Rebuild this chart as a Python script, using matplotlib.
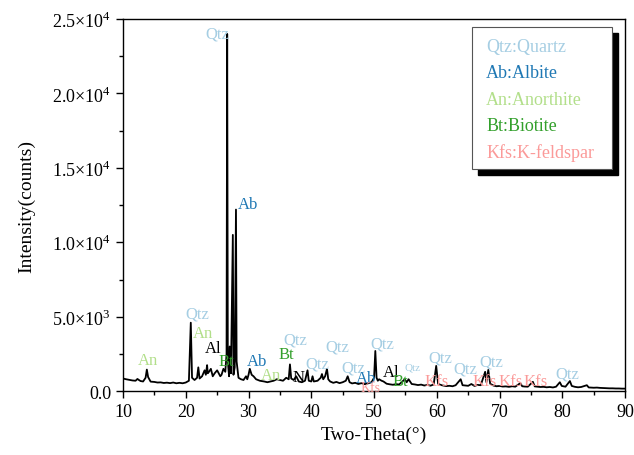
import matplotlib
matplotlib.use("Agg")
import matplotlib.pyplot as plt
from matplotlib.patches import Rectangle
from matplotlib.ticker import FuncFormatter, MultipleLocator

plt.rcParams['font.family'] = ['Liberation Serif', 'DejaVu Serif']
plt.rcParams['mathtext.fontset'] = 'custom'
plt.rcParams['mathtext.rm'] = 'Liberation Serif'

# XRD pattern (two-theta in degrees, intensity in counts)
two_theta = [10.0, 10.5, 11.0, 11.5, 12.0, 12.3, 12.5, 12.8, 13.2, 13.6, 13.8, 14.0, 14.4,
             15.0, 15.5, 16.0, 16.5, 17.0, 17.5, 18.0, 18.5, 19.0, 19.5, 20.0, 20.5, 20.8,
             21.0, 21.4, 21.8, 22.0, 22.2,
             22.6, 23.0, 23.2, 23.4, 23.5, 23.7, 24.0, 24.3, 24.6, 25.0, 25.5, 25.7, 26.0,
             26.3, 26.5, 26.6, 26.7, 26.9, 27.0, 27.2, 27.5, 27.6, 27.8, 28.0, 28.1, 28.4,
             28.8, 29.2, 29.6, 29.8, 30.0, 30.2, 30.5, 30.8, 31.2, 31.8, 32.5, 33.0, 33.5,
             34.0, 34.5, 35.0, 35.5, 36.0, 36.4, 36.6, 36.8, 37.2, 37.6, 38.0, 38.5, 39.0,
             39.4, 39.6, 40.0, 40.2, 40.4, 41.0, 41.5, 41.7, 41.9, 42.2, 42.5, 42.7, 43.0,
             43.5, 44.0, 44.5, 45.0, 45.5, 45.8, 46.1, 46.5, 47.0, 47.5, 48.0, 48.5, 49.0,
             49.6, 50.0, 50.2, 50.4, 50.6,
             50.8, 51.2, 51.5, 52.0, 52.5, 53.0, 53.5, 54.0, 54.9, 55.2, 55.5, 56.0, 56.5,
             57.0, 57.5, 58.0, 58.5, 59.0, 59.5,
             59.9, 60.2, 60.6, 61.0, 61.5, 62.0, 62.5, 63.0, 63.8, 64.1, 64.5, 65.0, 65.5,
             66.0, 66.5, 67.0, 67.7, 67.9,
             68.2, 68.5, 69.0, 69.5, 70.0, 70.5, 71.0, 71.5, 72.0, 72.5, 73.3, 73.6, 74.0,
             74.5, 75.3, 75.6, 76.0, 76.5, 77.0, 77.5, 78.0, 78.5, 79.0,
             79.6, 79.9, 80.5, 81.2, 81.5, 82.0, 82.5, 83.0, 83.9, 84.2, 85.0, 85.5, 86.0,
             86.5, 87.0, 87.5, 88.0, 88.5, 89.0, 89.5, 90.0]
counts = [850, 800, 760, 720, 700, 820, 760, 680, 650, 900, 1450, 950, 640,
          620, 580, 590, 550, 570, 540, 580, 530, 560, 530, 580, 700, 4600,
          900, 750, 900, 1600, 850,
          1000, 1400, 1100, 1750, 1200, 1300, 1500, 1000, 1200, 1400, 1000, 1100, 1500,
          1300, 2500, 24000, 2000, 1000, 3000, 1200, 10500, 1100, 1600, 12200, 2000, 900,
          800, 750, 1000, 800, 1100, 1500, 1100, 1000, 800, 700, 650, 600, 650,
          700, 800, 750, 700, 900, 800, 1800, 850, 750, 1000, 650, 600, 700,
          1400, 700, 650, 1000, 650, 700, 900, 1150, 800, 1000, 1500, 800, 650,
          560, 620, 540, 600, 700, 1000, 600, 520, 560, 480, 540, 470, 520,
          600, 900, 2700, 900, 700,
          800, 700, 650, 500, 460, 430, 470, 450, 800, 600, 800, 480, 450,
          410, 440, 380, 420, 370, 450,
          1700, 500, 420, 380, 340, 360, 330, 400, 800, 400, 380, 360, 480,
          350, 420, 400, 1300, 600,
          1430, 500, 380, 330, 350, 310, 320, 290, 330, 300, 540, 330, 310,
          300, 630, 320, 300, 280, 290, 260, 280, 250, 300,
          600, 350, 300, 680, 350, 290, 260, 280, 400, 250, 230, 240, 220,
          210, 200, 190, 190, 180, 180, 170, 170]

# phase labels: text, x, y, colour, size
lab_text = ['Qtz', 'Ab', 'Qtz', 'An', 'Al', 'Bt', 'An', 'Ab', 'Bt', 'Qtz', 'An', 'N',
            'Qtz', 'Qtz', 'Qtz', 'Ab', 'Kfs', 'Qtz', 'Al', 'Qtz', 'Bt', 'Qtz', 'Kfs',
            'Qtz', 'Qtz', 'Kfs', 'Kfs', 'Kfs', 'Qtz']
lab_x = [25.0, 30.0, 21.9, 22.8, 24.3, 26.4, 14.0, 31.4, 36.0, 37.4, 33.6, 38.0,
         40.9, 44.1, 46.7, 48.7, 49.5, 51.3, 52.7, 56.2, 54.2, 60.5, 59.9,
         64.6, 68.7, 67.6, 71.8, 75.8, 80.8]
lab_y = [24000, 12600, 5200, 3900, 2900, 2000, 2100, 2050, 2500, 3450, 1100, 950,
         1850, 3000, 1600, 900, 250, 3200, 1300, 1600, 700, 2250, 700,
         1500, 2000, 700, 700, 700, 1200]
lab_col = ['#a6cee3', '#1f78b4', '#a6cee3', '#b2df8a', 'black', '#33a02c', '#b2df8a',
           '#1f78b4', '#33a02c', '#a6cee3', '#b2df8a', 'black', '#a6cee3', '#a6cee3',
           '#a6cee3', '#1f78b4', '#fb9a99', '#a6cee3', 'black', '#a6cee3', '#33a02c',
           '#a6cee3', '#fb9a99', '#a6cee3', '#a6cee3', '#fb9a99', '#fb9a99', '#fb9a99',
           '#a6cee3']
lab_size = [12, 12, 12, 12, 12, 12, 12, 12, 12, 12, 12, 12, 12, 12, 12, 12, 10, 12, 12,
            8, 12, 12, 12, 12, 12, 12, 12, 12, 12]

legend_text = ['Qtz:Quartz', 'Ab:Albite', 'An:Anorthite', 'Bt:Biotite', 'Kfs:K-feldspar']
legend_col = ['#a6cee3', '#1f78b4', '#b2df8a', '#33a02c', '#fb9a99']


def sci(v, pos):
    if v == 0:
        return '0.0'
    e = 0
    m = v
    while m >= 10:
        m = m / 10
        e += 1
    return '%.1f$\\times$10$^{%d}$' % (m, e)


fig = plt.figure(figsize=(6.34, 4.56), dpi=100)
ax = fig.add_axes([0.194, 0.140, 0.792, 0.816])

ax.plot(two_theta, counts, color='black', lw=1.3)

for t, x, y, c, s in zip(lab_text, lab_x, lab_y, lab_col, lab_size):
    ax.text(x, y, t, color=c, fontsize=s, ha='center', va='center')

ax.set_xlim(10, 90)
ax.set_ylim(0, 25000)
ax.xaxis.set_major_locator(MultipleLocator(10))
ax.xaxis.set_minor_locator(MultipleLocator(5))
ax.yaxis.set_major_locator(MultipleLocator(5000))
ax.yaxis.set_minor_locator(MultipleLocator(2500))
ax.yaxis.set_major_formatter(FuncFormatter(sci))
ax.tick_params(which='both', direction='out', top=False, right=False, labelsize=13, width=1)
ax.tick_params(which='major', length=5)
ax.tick_params(which='minor', length=3)
for sp in ax.spines.values():
    sp.set_linewidth(1)

ax.set_xlabel('Two-Theta(°)', fontsize=14, labelpad=4)
ax.set_ylabel('Intensity(counts)', fontsize=14, labelpad=12)

# legend box with shadow
ax.add_patch(Rectangle((0.707, 0.582), 0.279, 0.381, transform=ax.transAxes,
                       facecolor='black', edgecolor='black', zorder=4))
ax.add_patch(Rectangle((0.695, 0.597), 0.279, 0.381, transform=ax.transAxes,
                       facecolor='white', edgecolor='#555555', lw=0.8, zorder=5))
for i, (t, c) in enumerate(zip(legend_text, legend_col)):
    ax.text(0.723, 0.927 - i * 0.071, t, color=c, fontsize=13,
            transform=ax.transAxes, ha='left', va='center', zorder=6)

fig.savefig('out.png', dpi=100)
